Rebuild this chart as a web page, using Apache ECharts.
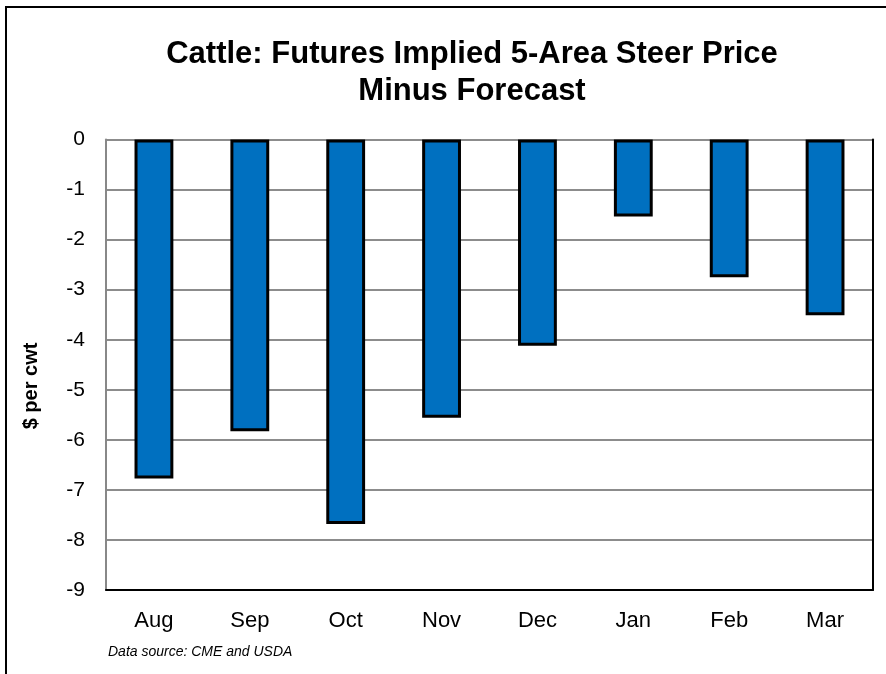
<!DOCTYPE html>
<html>
<head>
<meta charset="utf-8">
<script src="https://cdn.jsdelivr.net/npm/echarts@6/dist/echarts.min.js"></script>
<style>
html,body{margin:0;padding:0;background:#fff;}
#chart{width:886px;height:674px;}
</style>
</head>
<body>
<div id="chart"></div>
<script>
const categories = ['Aug','Sep','Oct','Nov','Dec','Jan','Feb','Mar'];
const values = [-6.77, -5.83, -7.68, -5.56, -4.12, -1.54, -2.75, -3.51];
const titleText = 'Cattle: Futures Implied 5-Area Steer Price\nMinus Forecast';
const yAxisName = '$ per cwt';
const sourceText = 'Data source: CME and USDA';

const chart = echarts.init(document.getElementById('chart'), null, {renderer:'canvas'});
const FONT = '"Liberation Sans", Arial, sans-serif';
chart.setOption({
  animation:false,
  backgroundColor:'#fff',
  title:{
    text:titleText,
    left:467, top:31, textAlign:'center',
    textStyle:{fontFamily:FONT, fontWeight:'bold', fontSize:31, color:'#000', lineHeight:37}
  },
  grid:{left:106, right:13, top:139.5, bottom:84},
  xAxis:{
    type:'category', data:categories,
    axisLine:{onZero:false, lineStyle:{color:'#000', width:2}},
    axisTick:{show:false},
    axisLabel:{fontFamily:FONT, fontSize:22, color:'#000', margin:20}
  },
  yAxis:[{
    type:'value', min:-9, max:0, interval:1,
    axisLine:{show:true, lineStyle:{color:'#888', width:2}},
    axisTick:{show:false},
    axisLabel:{fontFamily:FONT, fontSize:21, color:'#000', margin:21},
    splitLine:{lineStyle:{color:'#8c8c8c', width:2}}
  },{
    type:'value', min:-9, max:0, interval:1, position:'right',
    axisLine:{show:true, lineStyle:{color:'#000', width:2}},
    axisTick:{show:false}, axisLabel:{show:false}, splitLine:{show:false}
  }],
  series:[{
    type:'bar', data:values, barWidth:'40.5%',
    itemStyle:{color:'#0070C0', borderColor:'#000', borderWidth:3}
  }],
  graphic:[
    {type:'rect', shape:{x:6, y:7, width:950, height:750}, style:{fill:'none', stroke:'#000', lineWidth:2}, silent:true, z:-1},
    {type:'text', x:31, y:386, rotation:Math.PI/2,
      style:{text:yAxisName, fontFamily:FONT, fontWeight:'bold', fontSize:20, fill:'#000', align:'center', verticalAlign:'middle'}},
    {type:'text', left:108, top:645, style:{text:sourceText, fontFamily:FONT, fontStyle:'italic', fontSize:14, fill:'#000'}}
  ]
});
</script>
</body>
</html>
